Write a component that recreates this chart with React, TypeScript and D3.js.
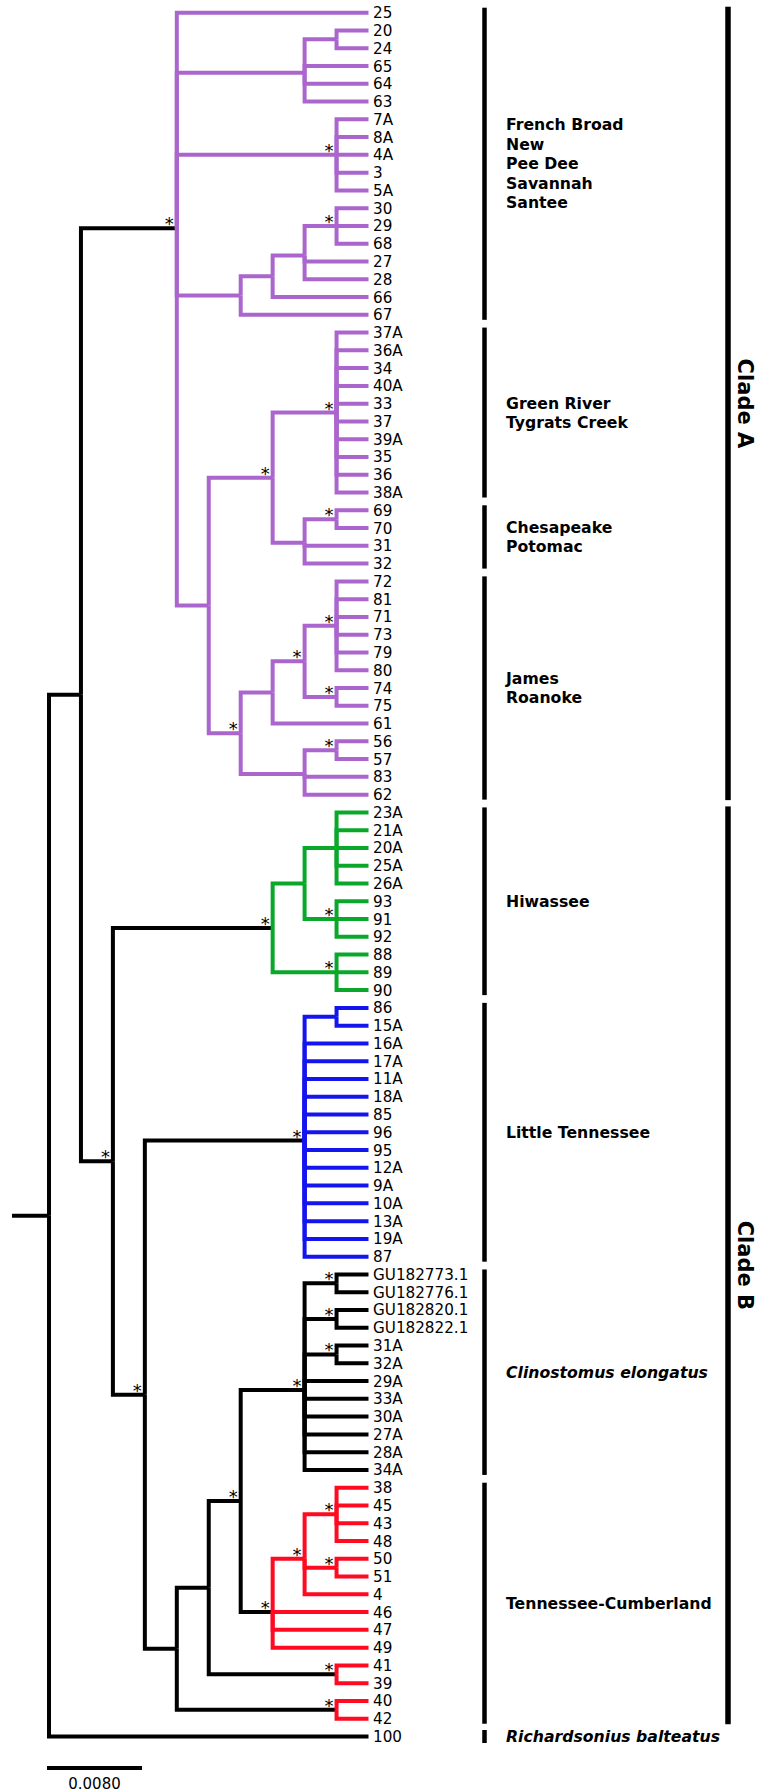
import React, { useMemo } from "react";
import * as d3 from "d3";

// tree topology in Newick form; "*" after a clade marks a supported node
const greenRiver = "((37A,36A,34,40A,33,37,39A,35,36,38A)*,((69,70)*,31,32))*";
const jamesRoanoke = "((((72,81,71,73,79,80)*,(74,75)*)*,61),((56,57)*,83,62))*";
const cladeA = `(25,((20,24),65,64,63),(7A,8A,4A,3,5A)*,((((30,29,68)*,27,28),66),67),(${greenRiver},${jamesRoanoke}))*`;
const hiwassee = "(((23A,21A,20A,25A,26A),(93,91,92)*),(88,89,90)*)*";
const littleTn = "((86,15A),16A,17A,11A,18A,85,96,95,12A,9A,10A,13A,19A,87)*";
const clinostomus = "((GU182773.1,GU182776.1)*,(GU182820.1,GU182822.1)*,(31A,32A)*,29A,33A,30A,27A,28A,34A)*";
const tnCumberland = "(((38,45,43,48)*,(50,51)*,4)*,46,47,49)*";
const tn41 = "(41,39)*";
const tn40 = "(40,42)*";
const backbone = "(($A,($H,($L,((($C,$T)*,$T41),$T40))*)*),100)";

// placeholder -> subtree, colour key
const subtrees: [string, string, string | null][] = [
  ["$A", cladeA, "purple"],
  ["$H", hiwassee, "green"],
  ["$L", littleTn, "blue"],
  ["$C", clinostomus, null],
  ["$T", tnCumberland, "red"],
  ["$T41", tn41, "red"],
  ["$T40", tn40, "red"],
];

const palette: Record<string, string> = {
  purple: "#ab66cd",
  green: "#0aa82a",
  blue: "#1414ef",
  red: "#ff0a20",
  black: "#000000",
};

// river drainage groups (first leaf, last leaf)
const groupLines = [
  ["French Broad", "New", "Pee Dee", "Savannah", "Santee"],
  ["Green River", "Tygrats Creek"],
  ["Chesapeake", "Potomac"],
  ["James", "Roanoke"],
  ["Hiwassee"],
  ["Little Tennessee"],
  ["Clinostomus elongatus"],
  ["Tennessee-Cumberland"],
  ["Richardsonius balteatus"],
];
const groupFrom = ["25", "37A", "69", "72", "23A", "86", "GU182773.1", "38", "100"];
const groupTo = ["67", "38A", "32", "62", "90", "87", "34A", "42", "100"];
const groupItalic = [false, false, false, false, false, false, true, false, true];

const cladeLabels = ["Clade A", "Clade B"];
const cladeFrom = ["25", "23A"];
const cladeTo = ["62", "42"];

const scaleValue = 0.008;
const scaleLabel = "0.0080";

type TNode = { name?: string; star?: boolean; color?: string | null; children?: TNode[] };

function parseNewick(s: string): TNode {
  let i = 0;
  const readLabel = () => {
    const start = i;
    while (i < s.length && !",()".includes(s[i])) i++;
    return s.slice(start, i).trim();
  };
  const parseNode = (): TNode => {
    if (s[i] === "(") {
      i++;
      const children: TNode[] = [];
      for (;;) {
        children.push(parseNode());
        if (s[i] === ",") { i++; continue; }
        i++;
        break;
      }
      const lab = readLabel();
      return { children, star: lab.includes("*") };
    }
    return { name: readLabel() };
  };
  return parseNode();
}

function buildTree(): TNode {
  const base = parseNewick(backbone);
  const fill = (n: TNode): TNode => {
    if (n.name && n.name.startsWith("$")) {
      const [, nw, col] = subtrees.find((d) => d[0] === n.name)!;
      const sub = parseNewick(nw);
      sub.color = col;
      return sub;
    }
    if (n.children) n.children = n.children.map(fill);
    return n;
  };
  return fill(base);
}

const W = 776;
const H = 1792;
const FONT = "DejaVu Sans, Verdana, sans-serif";

export default function App() {
  const { links, nodes, leaves, yOf, x, y } = useMemo(() => {
    const root = d3.hierarchy<TNode>(buildTree(), (d) => d.children);
    const n = root.leaves().length;
    d3.cluster<TNode>().size([n, 1]).separation(() => 1)(root);
    // inherit colours down the tree
    root.each((d: any) => {
      d.col = d.data.color ? palette[d.data.color] : d.parent ? d.parent.col : palette.black;
    });
    const y = d3.scaleLinear().domain([0.5, n - 0.5]).range([12.7, 1736.5]);
    const x = d3.scaleLinear().domain([0, 1]).range([49, 368.5]);
    const yOf: Record<string, number> = {};
    root.leaves().forEach((l: any) => (yOf[l.data.name] = y(l.x)));
    return { links: root.links(), nodes: root.descendants(), leaves: root.leaves(), yOf, x, y };
  }, []);

  const rootNode: any = nodes[0];
  const sb = d3.scaleLinear().domain([0, scaleValue]).range([47, 142]);

  const gx = 484.5;
  const cx = 728;
  const lineStep = 19.5;
  const fs = 15.7;

  return (
    <svg width={W} height={H} style={{ position: "absolute", left: 0, top: 0, background: "#fff" }} fontFamily={FONT}>
      <rect width={W} height={H} fill="#fff" />
      {/* root edge */}
      <line x1={x(0) - 37} x2={x(0)} y1={y(rootNode.x)} y2={y(rootNode.x)} stroke="#000" strokeWidth={4} />
      {links.map((l: any, i) => (
        <path
          key={i}
          d={`M${x(l.source.y)},${y(l.source.x)}V${y(l.target.x)}H${x(l.target.y)}`}
          fill="none"
          stroke={l.source.col}
          strokeWidth={4}
          strokeLinejoin="miter"
        />
      ))}
      {nodes
        .filter((d: any) => d.data.star)
        .map((d: any, i) => (
          <text key={i} x={x(d.y) - 7.5} y={y(d.x) + 2} fontSize={18} textAnchor="middle" fill="#000">
            *
          </text>
        ))}
      {leaves.map((d: any, i) => (
        <text key={i} x={373} y={y(d.x) + 5.5} fontSize={15.2} fill="#000">
          {d.data.name}
        </text>
      ))}
      {groupLines.map((lines, i) => {
        const single = groupFrom[i] === groupTo[i];
        const y0 = yOf[groupFrom[i]] - (single ? 6.5 : 5);
        const y1 = yOf[groupTo[i]] + (single ? 6.5 : 5);
        const mid = (y0 + y1) / 2;
        const first = mid - ((lines.length - 1) * lineStep) / 2 + 0.365 * fs;
        return (
          <g key={i}>
            <rect x={gx - 2.25} y={y0} width={4.5} height={y1 - y0} fill="#000" />
            {lines.map((t, j) => (
              <text
                key={j}
                x={506}
                y={first + j * lineStep}
                fontSize={fs}
                fontWeight="bold"
                fontStyle={groupItalic[i] ? "italic" : "normal"}
                fill="#000"
              >
                {t}
              </text>
            ))}
          </g>
        );
      })}
      {cladeLabels.map((t, i) => {
        const y0 = yOf[cladeFrom[i]] - 6;
        const y1 = yOf[cladeTo[i]] + 5.5;
        const mid = (y0 + y1) / 2;
        return (
          <g key={i}>
            <rect x={cx - 2.75} y={y0} width={5.5} height={y1 - y0} fill="#000" />
            <text
              x={737.5}
              y={mid}
              transform={`rotate(90 737.5 ${mid})`}
              textAnchor="middle"
              fontSize={21}
              fontWeight="bold"
              fill="#000"
            >
              {t}
            </text>
          </g>
        );
      })}
      {/* scale bar */}
      <line x1={sb(0)} x2={sb(scaleValue)} y1={1768} y2={1768} stroke="#000" strokeWidth={4} />
      <text x={(sb(0) + sb(scaleValue)) / 2} y={1788.5} fontSize={15} textAnchor="middle" fill="#000">
        {scaleLabel}
      </text>
    </svg>
  );
}
